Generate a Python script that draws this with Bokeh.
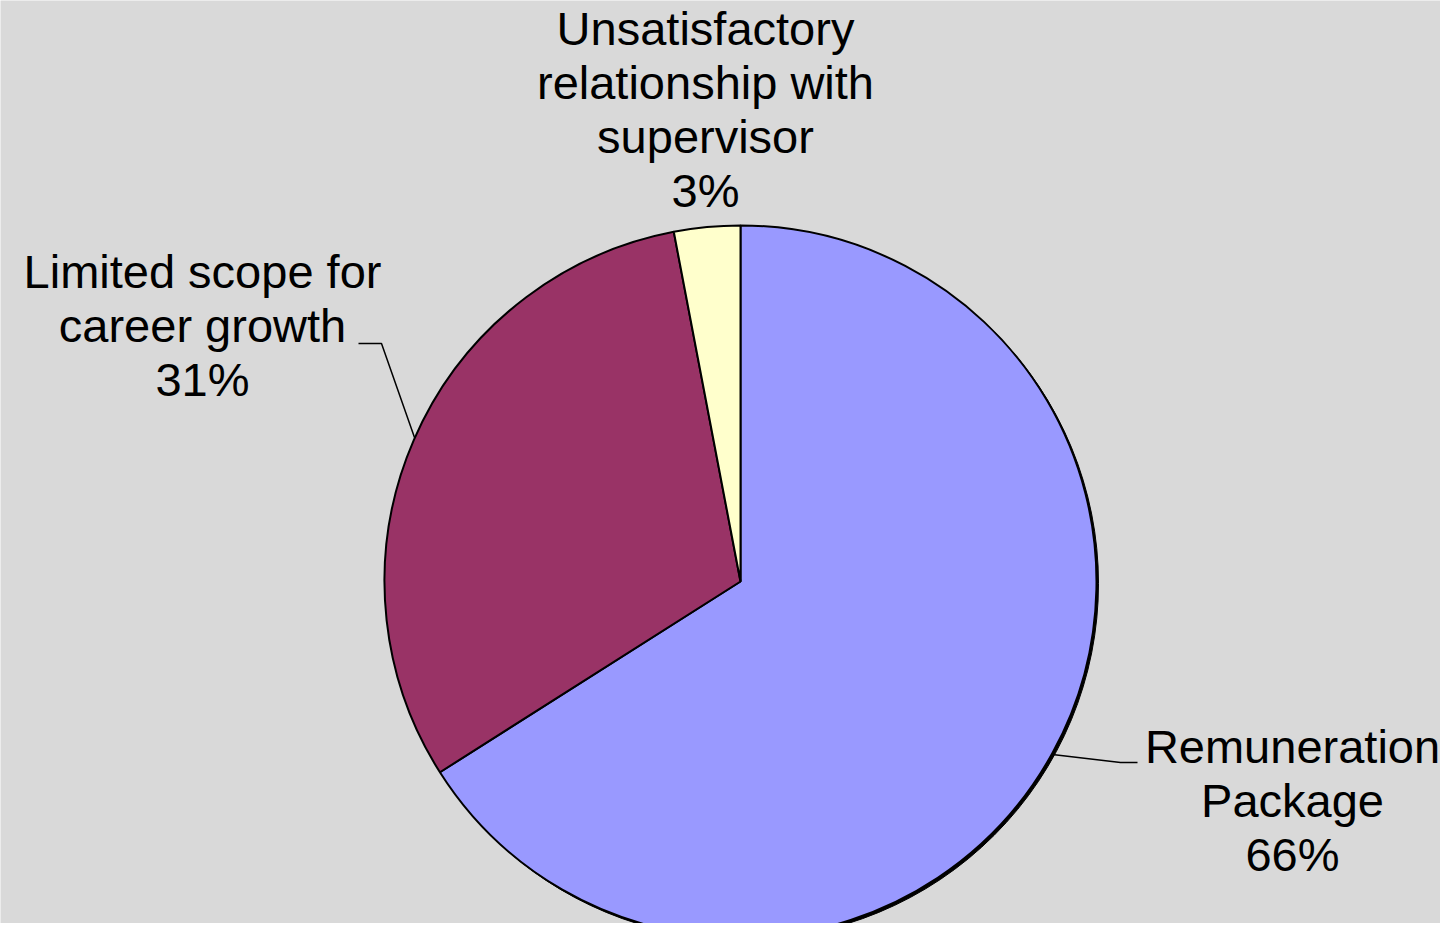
import numpy as np
from bokeh.plotting import figure
from bokeh.models import Range1d, ColumnDataSource
from bokeh.core.properties import value
from bokeh.embed import file_html
from bokeh.resources import INLINE

# ---- data ----
categories = ["Remuneration Package", "Limited scope for career growth",
              "Unsatisfactory relationship with supervisor"]
values = [66, 31, 3]
label_lines = [["Remuneration", "Package"],
               ["Limited scope for", "career growth"],
               ["Unsatisfactory", "relationship with", "supervisor"]]
colors = ["#9999FF", "#993366", "#FFFFCC"]

# ---- layout (image pixel coordinates, y measured from the top) ----
FW, FH = 1440, 923
BG = "#d9d9d9"
cx_img, cy_img, R = 740, 581, 356
label_centers_x = [1292, 202, 705]
label_first_baseline = [746, 271, 28]
line_step = 54
leaders = [[(1052, 754), (1120, 762), (1137, 762)],
           [(358, 343), (381, 343), (414, 437)],
           None]

def Y(y_img):
    return FH - y_img

p = figure(width=FW, height=FH, output_backend="svg", toolbar_location=None,
           x_range=Range1d(0, FW), y_range=Range1d(0, FH),
           min_border=0, background_fill_color=BG, border_fill_color=BG,
           outline_line_color=None)
p.axis.visible = False
p.grid.visible = False

total = float(sum(values))
cum = np.cumsum([0] + values) / total
starts = [np.pi / 2 - 2 * np.pi * cum[i + 1] for i in range(len(values))]
ends = [np.pi / 2 - 2 * np.pi * cum[i] for i in range(len(values))]

# shadow edge
p.circle(x=[cx_img + 2], y=[Y(cy_img) - 2], radius=R, fill_color="black",
         line_color="black")

src = ColumnDataSource(dict(start=starts, end=ends, color=colors, name=categories))
p.wedge(x=cx_img, y=Y(cy_img), radius=R, start_angle="start", end_angle="end",
        direction="anticlock", fill_color="color", line_color="black",
        line_width=2, source=src)

# leader lines
for ld in leaders:
    if ld:
        p.line([a for a, b in ld], [Y(b) for a, b in ld], line_color="black", line_width=1.5)

# labels
tx, ty, tt = [], [], []
for i, lines in enumerate(label_lines):
    all_lines = lines + [f"{values[i] / total * 100:.0f}%"]
    for k, s in enumerate(all_lines):
        tx.append(label_centers_x[i])
        ty.append(Y(label_first_baseline[i] + k * line_step))
        tt.append(s)
p.text(x=tx, y=ty, text=tt, text_font=value("Liberation Sans"),
       text_font_size="47px", text_align="center", text_baseline="alphabetic",
       text_color="black")

open("out.html", "w").write(file_html(p, INLINE))
